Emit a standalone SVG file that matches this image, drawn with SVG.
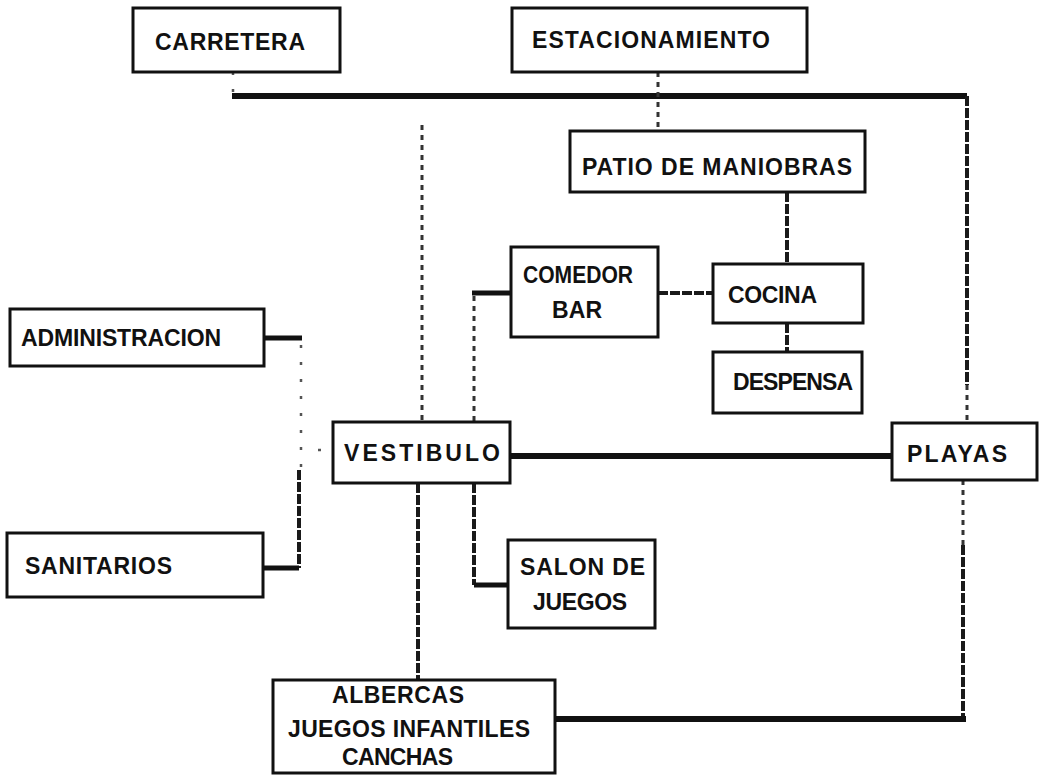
<svg xmlns="http://www.w3.org/2000/svg" width="1042" height="779" viewBox="0 0 1042 779">
<style>
.box{fill:#fff;stroke:#111;stroke-width:3}
.t{font-family:"Liberation Sans",Arial,sans-serif;font-weight:bold;font-size:23px;fill:#111}
.main{fill:none;stroke:#111;stroke-width:6;stroke-linejoin:miter}
.hatch{fill:none;stroke:#1a1a1a;stroke-width:4;stroke-dasharray:10 2}
.light{fill:none;stroke:#333;stroke-width:3;stroke-dasharray:5 5}
.faint{fill:none;stroke:#555;stroke-width:2.5;stroke-dasharray:3 14}
.stub{fill:none;stroke:#111;stroke-width:5}
</style>
<rect width="1042" height="779" fill="#fff"/>
<g id="connectors">
  <path class="faint" d="M233,72 V93"/>
  <path class="main" d="M232,96 H967"/>
  <path class="hatch" d="M967,96 V385"/>
  <path class="light" d="M967,385 V423"/>
  <path class="light" d="M658,72 V131"/>
  <path class="hatch" d="M787,192 V264"/>
  <path class="hatch" d="M787,323 V352"/>
  <path class="hatch" d="M658,293 H713"/>
  <path class="stub" d="M472,293 H511"/>
  <path class="light" d="M474,296 V422"/>
  <path class="light" d="M422,125 V422"/>
  <path class="stub" d="M264,338 H302"/>
  <path class="faint" d="M301,345 V470"/>
  <path class="hatch" d="M299,470 V568"/>
  <path class="stub" d="M299,568 H263"/>
  <path class="faint" d="M318,450 H333"/>
  <path class="main" d="M510,456 H892"/>
  <path class="hatch" d="M418,483 V680"/>
  <path class="hatch" d="M474,483 V585"/>
  <path class="stub" d="M474,585 H508"/>
  <path class="light" d="M963,480 V545"/>
  <path class="hatch" d="M963,545 V718"/>
  <path class="main" d="M555,719 H966"/>
</g>
<g id="carretera">
  <rect class="box" x="133" y="8" width="207" height="64"/>
  <text class="t" x="155" y="50" textLength="150" lengthAdjust="spacing">CARRETERA</text>
</g>
<g id="estacionamiento">
  <rect class="box" x="512" y="8" width="295" height="64"/>
  <text class="t" x="532" y="48" textLength="238" lengthAdjust="spacing">ESTACIONAMIENTO</text>
</g>
<g id="patio">
  <rect class="box" x="570" y="131" width="295" height="61"/>
  <text class="t" x="582" y="175" textLength="270" lengthAdjust="spacing">PATIO DE MANIOBRAS</text>
</g>
<g id="comedor">
  <rect class="box" x="511" y="247" width="147" height="90"/>
  <text class="t" x="523" y="283" textLength="110" lengthAdjust="spacingAndGlyphs">COMEDOR</text>
  <text class="t" x="552" y="318" textLength="50" lengthAdjust="spacing">BAR</text>
</g>
<g id="cocina">
  <rect class="box" x="713" y="264" width="150" height="59"/>
  <text class="t" x="728" y="303" textLength="89" lengthAdjust="spacing">COCINA</text>
</g>
<g id="despensa">
  <rect class="box" x="713" y="352" width="149" height="61"/>
  <text class="t" x="733" y="390" textLength="120" lengthAdjust="spacing">DESPENSA</text>
</g>
<g id="administracion">
  <rect class="box" x="10" y="309" width="254" height="57"/>
  <text class="t" x="21" y="346" textLength="200" lengthAdjust="spacing">ADMINISTRACION</text>
</g>
<g id="vestibulo">
  <rect class="box" x="333" y="422" width="177" height="61"/>
  <text class="t" x="344" y="461" textLength="156" lengthAdjust="spacing">VESTIBULO</text>
</g>
<g id="playas">
  <rect class="box" x="892" y="423" width="145" height="57"/>
  <text class="t" x="907" y="462" textLength="100" lengthAdjust="spacing">PLAYAS</text>
</g>
<g id="sanitarios">
  <rect class="box" x="7" y="533" width="256" height="64"/>
  <text class="t" x="25" y="574" textLength="147" lengthAdjust="spacing">SANITARIOS</text>
</g>
<g id="salon">
  <rect class="box" x="508" y="540" width="147" height="88"/>
  <text class="t" x="520" y="575" textLength="125" lengthAdjust="spacing">SALON DE</text>
  <text class="t" x="533" y="610" textLength="94" lengthAdjust="spacing">JUEGOS</text>
</g>
<g id="albercas">
  <rect class="box" x="273" y="680" width="282" height="93"/>
  <text class="t" x="332" y="703" textLength="132" lengthAdjust="spacing">ALBERCAS</text>
  <text class="t" x="288" y="737" textLength="242" lengthAdjust="spacing">JUEGOS INFANTILES</text>
  <text class="t" x="342" y="765" textLength="111" lengthAdjust="spacing">CANCHAS</text>
</g>
</svg>
